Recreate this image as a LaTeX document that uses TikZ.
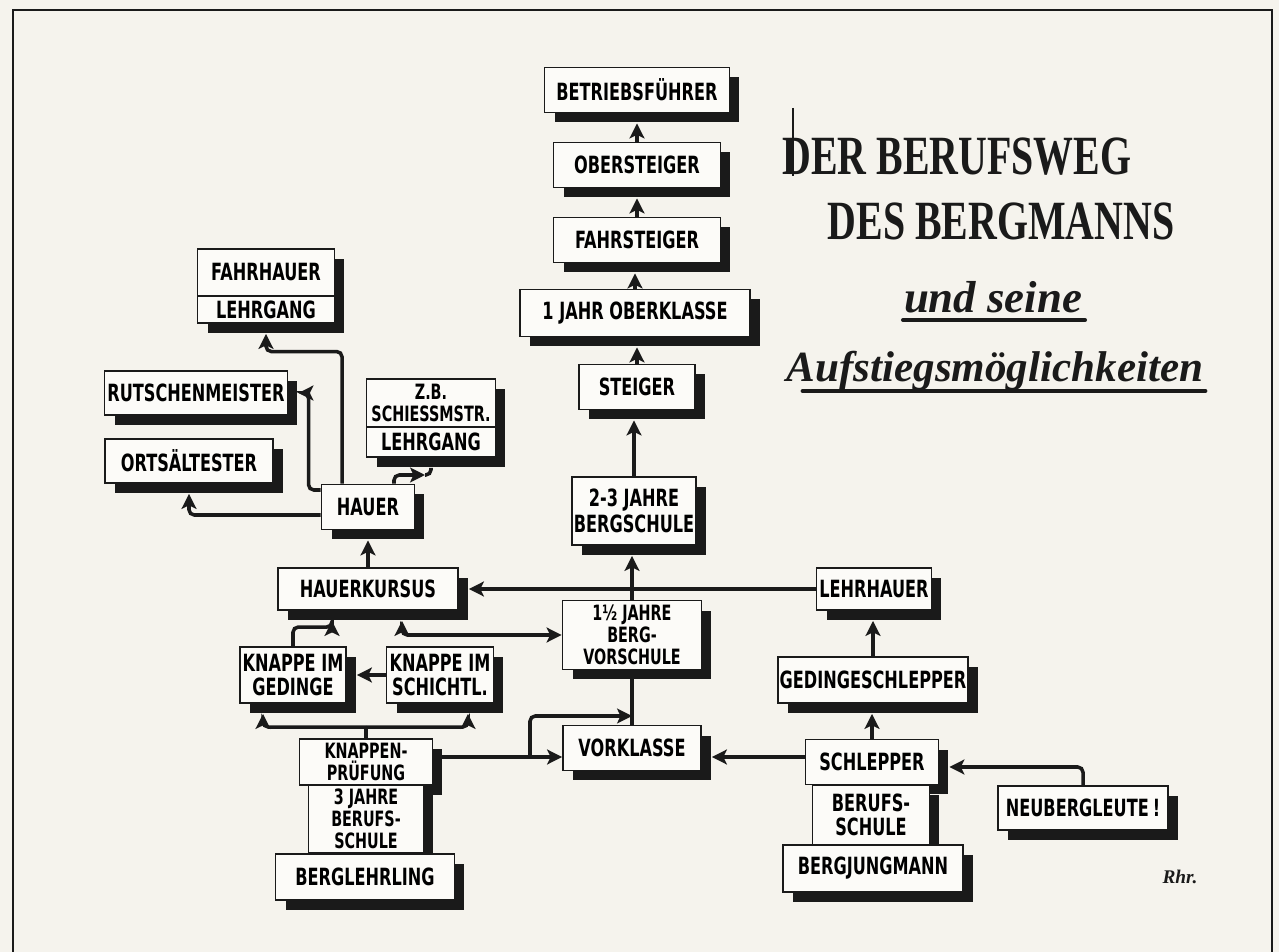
\documentclass[tikz,border=0pt]{standalone}
\usepackage{fontspec}
\usepackage{xcolor}
\usepackage{tikz}
\usetikzlibrary{positioning, shapes, calc, arrows.meta, shadows}

\newfontfamily\kastenfont{DejaVu Sans}[FakeStretch=0.68]
\newfontfamily\titelfont{Liberation Serif}[FakeStretch=0.72]
\newfontfamily\schriftfont{Liberation Serif}

\definecolor{papier}{RGB}{245,243,237}
\definecolor{karton}{RGB}{252,251,248}
\definecolor{tusche}{RGB}{26,26,26}

\tikzset{
	kasten/.style={draw=tusche, fill=karton, line width=1.1pt, inner sep=1pt, align=center,
		font=\kastenfont\bfseries\fontsize{13.5}{14}\selectfont,
		drop shadow={shadow xshift=2mm, shadow yshift=-2mm, opacity=1, fill=tusche}},
	eng/.style={font=\kastenfont\bfseries\fontsize{12}{12.6}\selectfont},
	weit/.style={font=\kastenfont\bfseries\fontsize{13.5}{15}\selectfont},
	pfeil/.style={draw=tusche, line width=2pt, rounded corners=3pt, ->},
	linie/.style={draw=tusche, line width=2pt, rounded corners=3pt},
}

\begin{document}
\begin{tikzpicture}[x=0.02cm, y=-0.02cm, >={Stealth[length=8.5pt, width=8.5pt, inset=2pt]}]
	
	%//paper and frame, y runs downwards like the picture
	\fill[papier] (0,0) rectangle (1279,952);
	\useasboundingbox (0,0) rectangle (1279,952);
	\draw[tusche, line width=1.3pt] (13,952) -- (13,10) -- (1272,10) -- (1272,952);
	
	%//middle column
	\node[kasten, minimum width=3.7cm, minimum height=0.9cm] (bf) at (637,90) {BETRIEBSFÜHRER};
	\node[kasten, minimum width=3.34cm, minimum height=0.9cm] (os) at (637,165) {OBERSTEIGER};
	\node[kasten, minimum width=3.34cm, minimum height=0.9cm] (fs) at (637,240) {FAHRSTEIGER};
	\node[kasten, minimum width=4.6cm, minimum height=0.94cm] (ok) at (635,313) {1 JAHR OBERKLASSE};
	\node[kasten, minimum width=2.32cm, minimum height=0.9cm] (st) at (637,387) {STEIGER};
	\node[kasten, weit, minimum width=2.36cm, minimum height=1.36cm] (bs) at (634,511) {2-3 JAHRE\\BERGSCHULE};
	\node[kasten, eng, minimum width=2.78cm, minimum height=1.38cm] (bv) at (632,635) {1½ JAHRE\\BERG-\\VORSCHULE};
	\node[kasten, minimum width=2.76cm, minimum height=0.9cm] (vk) at (632,748) {VORKLASSE};
	
	%//left column
	\node[kasten, minimum width=2.74cm, minimum height=0.94cm] (fh) at (266,272.5) {FAHRHAUER};
	\node[kasten, minimum width=2.74cm, minimum height=0.54cm] (fhl) at (266,309.5) {LEHRGANG};
	\node[kasten, minimum width=3.66cm, minimum height=0.88cm] (rm) at (196,393) {RUTSCHENMEISTER};
	\node[kasten, minimum width=3.36cm, minimum height=0.88cm] (oa) at (189,461) {ORTSÄLTESTER};
	\node[kasten, eng, minimum width=2.58cm, minimum height=0.96cm] (zb) at (431,403) {Z.B.\\SCHIESSMSTR.};
	\node[kasten, minimum width=2.58cm, minimum height=0.6cm] (zbl) at (431,442) {LEHRGANG};
	\node[kasten, minimum width=1.86cm, minimum height=0.9cm] (ha) at (368,507) {HAUER};
	\node[kasten, minimum width=3.6cm, minimum height=0.84cm] (hk) at (368,589) {HAUERKURSUS};
	\node[kasten, minimum width=2.12cm, minimum height=1.12cm] (kg) at (293,675) {KNAPPE IM\\GEDINGE};
	\node[kasten, minimum width=2.14cm, minimum height=1.12cm] (ks) at (440,675) {KNAPPE IM\\SCHICHTL.};
	\node[kasten, eng, minimum width=2.66cm, minimum height=0.92cm] (kp) at (366,762) {KNAPPEN-\\PRÜFUNG};
	\node[kasten, eng, minimum width=2.3cm, minimum height=1.36cm] (bsl) at (366,819) {3 JAHRE\\BERUFS-\\SCHULE};
	\node[kasten, minimum width=3.58cm, minimum height=0.92cm] (bl) at (365,877) {BERGLEHRLING};
	
	%//right column
	\node[kasten, minimum width=2.3cm, minimum height=0.84cm] (lh) at (874,589) {LEHRHAUER};
	\node[kasten, minimum width=3.78cm, minimum height=0.92cm] (gs) at (873,680) {GEDINGESCHLEPPER};
	\node[kasten, minimum width=2.66cm, minimum height=0.9cm] (sl) at (872,762) {SCHLEPPER};
	\node[kasten, minimum width=2.34cm, minimum height=1.2cm] (bfs) at (871,815) {BERUFS-\\SCHULE};
	\node[kasten, minimum width=3.6cm, minimum height=0.94cm] (bj) at (873,868.5) {BERGJUNGMANN};
	\node[kasten, minimum width=3.4cm, minimum height=0.88cm] (nb) at (1083,808) {NEUBERGLEUTE\,!};
	
	%//arrows up the middle
	\foreach \a/\b in {os/bf, fs/os, ok/fs, st/ok, bs/st, bv/bs}
	\draw[pfeil] (\a.north) -- ([yshift=-2mm]\a.north |- \b.south);
	
	\draw[pfeil] (lh.west) -- ([xshift=2mm]hk.east);
	\draw[pfeil, <->] ([xshift=6.8mm, yshift=-2mm]hk.south) |- (bv.west);
	\draw[pfeil] (kg.north) -- ++(0,-19) -| ([xshift=-7.2mm, yshift=-2mm]hk.south);
	\draw[pfeil] (ks.west) -- ([xshift=2mm]kg.east);
	
	\draw[linie] (kp.north) -- ++(0,-11) coordinate (kpk);
	\draw[pfeil] (kpk) -| ([xshift=-6mm, yshift=-2mm]kg.south);
	\draw[pfeil] (kpk) -| ([xshift=5.6mm, yshift=-2mm]ks.south);
	
	\coordinate (kpabzw) at (530,757);
	\coordinate (vkknoten) at (632,716);
	\draw[pfeil] ([yshift=1mm]kp.east) -- ([yshift=1mm]kp.east -| vk.west);
	\draw[pfeil] (kpabzw) |- (vkknoten);
	\draw[linie] (vk.north) -- (bv.south);
	\draw[pfeil] ([yshift=1mm]sl.west) -- ([yshift=1mm, xshift=2mm]sl.west -| vk.east);
	
	\draw[pfeil] (sl.north) -- ([yshift=-2mm]sl.north |- gs.south);
	\draw[pfeil] (gs.north) -- ([yshift=-2mm]gs.north |- lh.south);
	\draw[pfeil] (nb.north) |- ([xshift=2mm, yshift=-1mm]sl.east);
	
	%//hauer and what comes after
	\draw[pfeil] (hk.north) -- ([yshift=-2mm]hk.north |- ha.south);
	\draw[pfeil] ([yshift=-1.6mm]ha.west) -| ([yshift=-2mm]oa.south);
	\draw[pfeil] ([yshift=3.4mm]ha.west) -- ++(-12,0) |- ([xshift=2mm]rm.east);
	\draw[pfeil] ([xshift=-5.2mm]ha.north) -- ++(0,-132) -| ([yshift=-2mm]fhl.south);
	\coordinate (zbspitze) at (425,475);
	\draw[pfeil] ([xshift=5.2mm]ha.north) |- (zbspitze);
	\draw[linie] (zbspitze) -| ([yshift=-2mm]zbl.south);
	
	%//title
	\node[anchor=base, text=tusche, font=\titelfont\bfseries\fontsize{31.5}{32}\selectfont] (titel1) at (957,175) {DER BERUFSWEG};
	\node[anchor=base, text=tusche, font=\titelfont\bfseries\fontsize{31.5}{32}\selectfont] (titel2) at (1001,240) {DES BERGMANNS};
	\draw[tusche, line width=0.6pt] (793,108) -- (793,176);
	\node[anchor=base, text=tusche, font=\schriftfont\bfseries\itshape\fontsize{25.5}{26}\selectfont] (und) at (993,313) {und seine};
	\node[anchor=base, text=tusche, font=\schriftfont\bfseries\itshape\fontsize{24.5}{25}\selectfont] (aufstieg) at (995,382) {Aufstiegsmöglichkeiten};
	\draw[tusche, line width=2.3pt, line cap=round] (903,320) -- (1085,320);
	\draw[tusche, line width=2.8pt, line cap=round] (803,391) -- (1205,391);
	
	\node[text=tusche, font=\schriftfont\bfseries\itshape\fontsize{11}{11}\selectfont] (zeichen) at (1180,877) {Rhr.};
	
\end{tikzpicture}
\end{document}
